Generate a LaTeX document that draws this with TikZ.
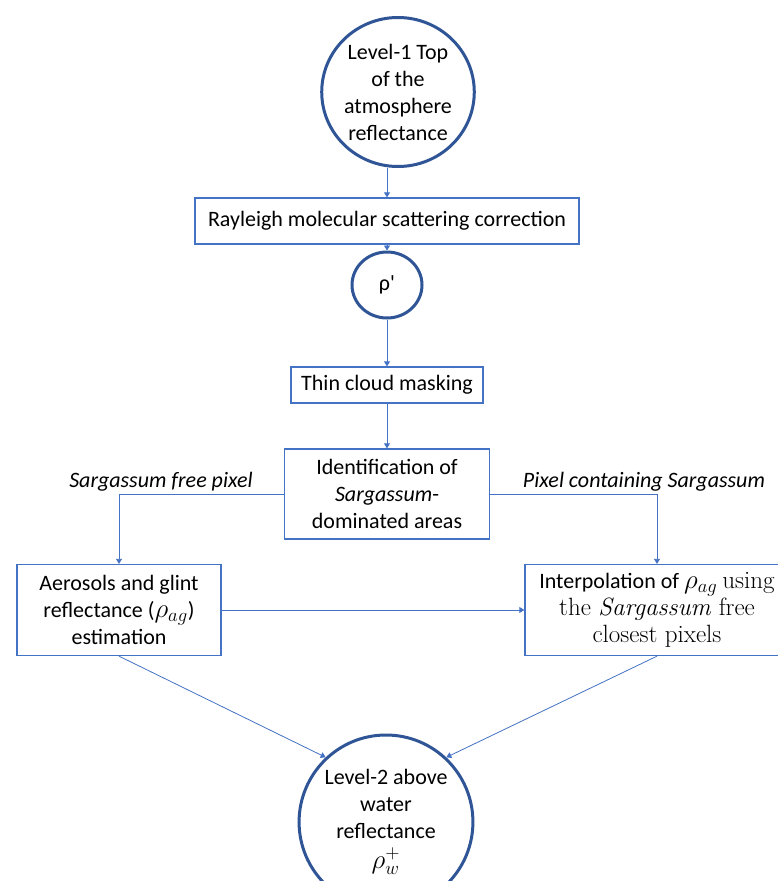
\documentclass[tikz,border=0pt]{standalone}
\usepackage{graphicx}
\usepackage{fontspec}
\setsansfont{Carlito}
\usepackage{tikz}
\usetikzlibrary{shapes.geometric}
\usetikzlibrary{arrows.meta}
\definecolor{ringblue}{HTML}{2F5597}
\definecolor{boxblue}{HTML}{4472C4}
\newcommand{\bigmath}[1]{\scalebox{1.3}{$#1$}}
\newcommand{\serifpart}[1]{{\rmfamily\fontsize{25}{27}\selectfont #1}}
\tikzset{
  ring/.style={ellipse, draw=ringblue, line width=3pt, inner sep=0pt, align=center,
    font=\sffamily\fontsize{22}{27}\selectfont},
  stepbox/.style={rectangle, draw=boxblue, line width=1.3pt, inner sep=0pt, align=center,
    font=\sffamily\fontsize{22}{27}\selectfont},
  link/.style={draw=boxblue, line width=0.8pt, -{Triangle[width=6pt,length=5pt]}},
  branch/.style={font=\sffamily\itshape\fontsize{22}{27}\selectfont}
}

\begin{document}
\begin{tikzpicture}[x=1pt,y=-1pt]
        %FRAME
        \useasboundingbox (0,0) rectangle (778,881);
        \clip (0,0) rectangle (778,881);
        \fill[white] (0,0) rectangle (778,881);
        %CIRCLES
        \node[ring, minimum width=142pt, minimum height=149pt] (toa) at (398,92)
            {Level-1 Top\\of the\\atmosphere\\reflectance};
        \node[ring, minimum width=70pt, minimum height=66pt] (rho) at (387,285) {ρ\textquotesingle};
        \node[ring, minimum width=154pt, minimum height=174pt] (rhow) at (386,822)
            {Level-2 above\\water\\reflectance\\[3pt]\bigmath{\rho_w^+}};
        %BOXES
        \node[stepbox, minimum width=384pt, minimum height=46pt] (ray) at (387,221)
            {Rayleigh molecular scattering correction};
        \node[stepbox, minimum width=192pt, minimum height=36pt] (thin) at (387,385)
            {Thin cloud masking};
        \node[stepbox, minimum width=205pt, minimum height=90pt] (ident) at (387,494)
            {Identification of\\\textit{Sargassum}-\\dominated areas};
        \node[stepbox, minimum width=204pt, minimum height=91pt] (aero) at (119,610)
            {Aerosols and glint\\reflectance (\bigmath{\rho_{ag}})\\estimation};
        \node[stepbox, minimum width=264pt, minimum height=91pt] (interp) at (657,610)
            {Interpolation of \bigmath{\rho_{ag}} \serifpart{using}\\\serifpart{the \textit{Sargassum} free}\\\serifpart{closest pixels}};
        %LABELS
        \node[branch] (free) at (161,482) {Sargassum free pixel};
        \node[branch] (with) at (644,482) {Pixel containing Sargassum};
        %ARROWS
        \draw[link] (ray.north |- toa.south) -- (ray.north);
        \draw[link] (ray.south) -- (rho.north);
        \draw[link] (rho.south) -- (thin.north);
        \draw[link] (thin.south) -- (ident.north);
        \draw[link] (ident.west) -| (aero.north);
        \draw[link] (ident.east) -| (interp.north);
        \draw[link] (aero.east) -- (aero.east -| interp.west);
        \draw[link] (aero.south) -- (rhow.133);
        \draw[link] (interp.south) -- (rhow.47);
\end{tikzpicture}
\end{document}
